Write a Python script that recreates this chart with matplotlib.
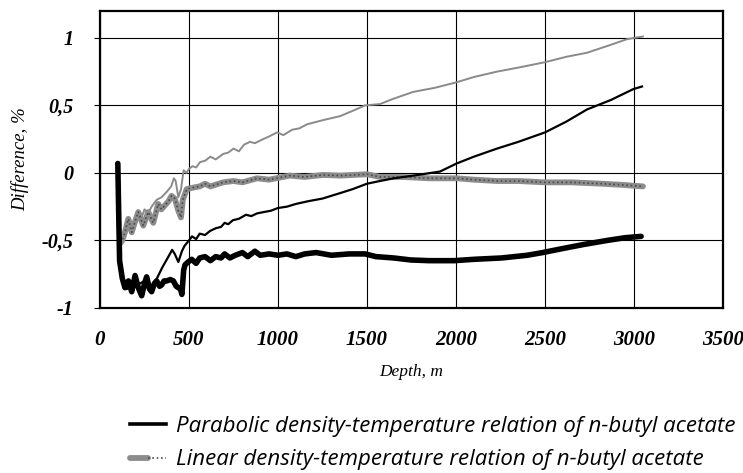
import matplotlib as mpl
import matplotlib.pyplot as plt
from matplotlib.font_manager import FontProperties
from matplotlib.legend_handler import HandlerTuple

mpl.rcParams.update({
    "font.family": "serif",
    "font.serif": ["Liberation Serif", "DejaVu Serif"],
    "font.style": "italic",
})

# thick black line
depth_tb = [100, 105, 110, 125, 140, 160, 178, 197, 215, 234, 250, 262, 278, 290, 305,
            318, 335, 346, 360, 375, 395, 412, 428, 440, 452, 460, 470, 478, 495, 515,
            540, 560, 590, 620, 650, 680, 700, 730, 760, 800, 830, 870, 900, 950, 1000,
            1050, 1100, 1150, 1214, 1300, 1400, 1489, 1550, 1650, 1747, 1850, 1990, 2100,
            2256, 2400, 2487, 2600, 2718, 2850, 2950, 3040]
diff_tb = [0.07, -0.30, -0.65, -0.78, -0.85, -0.80, -0.88, -0.76, -0.85, -0.91, -0.82, -0.77,
           -0.86, -0.88, -0.82, -0.80, -0.84, -0.83, -0.80, -0.80, -0.79, -0.80, -0.84, -0.85,
           -0.86, -0.90, -0.72, -0.68, -0.66, -0.64, -0.67, -0.63, -0.62, -0.65, -0.62, -0.63,
           -0.60, -0.63, -0.61, -0.59, -0.62, -0.58, -0.61, -0.60, -0.61, -0.60, -0.62, -0.60,
           -0.59, -0.61, -0.60, -0.60, -0.62, -0.63, -0.645, -0.65, -0.65, -0.64, -0.63, -0.61,
           -0.59, -0.56, -0.53, -0.50, -0.48, -0.47]

# thin black line
depth_nb = [110, 125, 150, 180, 210, 250, 290, 320, 350, 380, 405, 420, 440, 460, 475, 500,
            517, 540, 560, 590, 618, 650, 680, 700, 720, 747, 780, 820, 850, 882, 920, 960,
            1000, 1050, 1100, 1168, 1250, 1348, 1420, 1500, 1573, 1650, 1760, 1910, 2004,
            2100, 2230, 2350, 2500, 2620, 2736, 2870, 2995, 3045]
diff_nb = [-0.60, -0.80, -0.86, -0.84, -0.83, -0.80, -0.84, -0.78, -0.70, -0.63, -0.57, -0.60,
           -0.66, -0.58, -0.54, -0.50, -0.47, -0.49, -0.45, -0.46, -0.43, -0.41, -0.40, -0.37,
           -0.38, -0.35, -0.34, -0.31, -0.32, -0.30, -0.29, -0.28, -0.26, -0.25, -0.23, -0.21,
           -0.19, -0.15, -0.12, -0.08, -0.06, -0.04, -0.02, 0.01, 0.07, 0.12, 0.18, 0.23, 0.30,
           0.38, 0.47, 0.54, 0.62, 0.64]

# thin grey line
depth_ng = [110, 125, 140, 160, 178, 197, 215, 234, 250, 270, 290, 318, 346, 375, 400, 415,
            425, 440, 455, 470, 485, 500, 520, 540, 562, 590, 620, 650, 691, 720, 750, 780,
            810, 843, 870, 916, 950, 995, 1030, 1080, 1120, 1163, 1250, 1348, 1420, 1489,
            1573, 1650, 1760, 1880, 2000, 2100, 2230, 2350, 2500, 2620, 2736, 2850, 2960,
            3000, 3050]
diff_ng = [-0.48, -0.52, -0.45, -0.40, -0.36, -0.38, -0.30, -0.33, -0.27, -0.30, -0.25, -0.20,
           -0.18, -0.14, -0.10, -0.04, -0.06, -0.18, -0.12, 0.02, 0.00, 0.03, 0.05, 0.04, 0.08,
           0.09, 0.12, 0.10, 0.14, 0.15, 0.18, 0.16, 0.21, 0.23, 0.22, 0.25, 0.27, 0.30, 0.28,
           0.32, 0.33, 0.36, 0.39, 0.42, 0.46, 0.50, 0.51, 0.55, 0.60, 0.63, 0.67, 0.71, 0.75,
           0.78, 0.82, 0.86, 0.89, 0.94, 0.99, 1.00, 1.01]

# thick grey (hatched) line
depth_tg = [115, 125, 140, 159, 178, 197, 215, 243, 271, 299, 327, 345, 365, 385, 402, 420,
            440, 455, 465, 487, 520, 560, 590, 620, 691, 750, 800, 882, 950, 1067, 1150, 1253,
            1350, 1500, 1573, 1700, 1850, 2004, 2100, 2230, 2350, 2500, 2650, 2820, 2950, 3050]
diff_tg = [-0.52, -0.50, -0.44, -0.34, -0.44, -0.36, -0.29, -0.39, -0.29, -0.37, -0.23, -0.27,
           -0.24, -0.21, -0.17, -0.19, -0.28, -0.33, -0.20, -0.12, -0.11, -0.10, -0.08, -0.10,
           -0.07, -0.06, -0.07, -0.04, -0.05, -0.02, -0.03, -0.015, -0.02, -0.01, -0.03, -0.03,
           -0.04, -0.04, -0.05, -0.06, -0.06, -0.07, -0.07, -0.08, -0.09, -0.10]

x_ticks = [0, 500, 1000, 1500, 2000, 2500, 3000, 3500]
y_ticks = [-1, -0.5, 0, 0.5, 1]
y_tick_labels = ["-1", "-0,5", "0", "0,5", "1"]
legend_labels = ["Parabolic density-temperature relation of n-butyl acetate",
                 "Linear density-temperature relation of n-butyl acetate"]

xtick_font = FontProperties(family="Liberation Serif", style="italic", weight="bold", size=15)
ytick_font = FontProperties(family="Liberation Serif", style="italic", weight="bold", size=14.5)
legend_font = FontProperties(family="Open Sans", style="italic", size=16)

fig = plt.figure(figsize=(7.43, 4.73), dpi=100)
ax = fig.add_axes([0.1346, 0.349, 0.8385, 0.628])

ax.plot(depth_ng, diff_ng, color="#8a8a8a", lw=1.4, zorder=3)
tg_base, = ax.plot(depth_tg, diff_tg, color="#8c8c8c", lw=4.2, solid_capstyle="round", zorder=4)
tg_hatch, = ax.plot(depth_tg, diff_tg, color="#4a4a4a", lw=1.2, dashes=(1, 1.6), zorder=5)
ax.plot(depth_nb, diff_nb, color="black", lw=1.6, zorder=6)
ax.plot(depth_tb, diff_tb, color="black", lw=4.0, solid_capstyle="round", zorder=7)

ax.set_xlim(0, 3500)
ax.set_ylim(-1, 1.2)
ax.set_xticks(x_ticks, [str(v) for v in x_ticks])
ax.set_yticks(y_ticks, y_tick_labels)
ax.grid(True, color="black", lw=0.8)
ax.set_axisbelow(True)
for s in ax.spines.values():
    s.set_linewidth(1.6)
ax.tick_params(axis="x", length=0, pad=16)
ax.tick_params(axis="y", length=4, width=0.8, pad=15)

ax.set_xlabel("Depth, m", fontsize=12.5, labelpad=10)
ax.set_ylabel("Difference, %", fontsize=13.5, labelpad=9)

legend_line, = ax.plot([], [], color="black", lw=2.6)
leg = fig.legend([legend_line, (tg_base, tg_hatch)], legend_labels,
                 handler_map={tuple: HandlerTuple(ndivide=None)},
                 loc="upper left", bbox_to_anchor=(0.175, 0.12), frameon=False,
                 fontsize=16, handlelength=1.6, handletextpad=0.45, labelspacing=0.55,
                 borderaxespad=0, borderpad=0)
for t in leg.get_texts():
    t.set_fontproperties(legend_font)

fig.canvas.draw()
for lab in ax.get_xticklabels():
    lab.set_fontproperties(xtick_font)
for lab in ax.get_yticklabels():
    lab.set_fontproperties(ytick_font)

fig.savefig("out.png", dpi=100)
